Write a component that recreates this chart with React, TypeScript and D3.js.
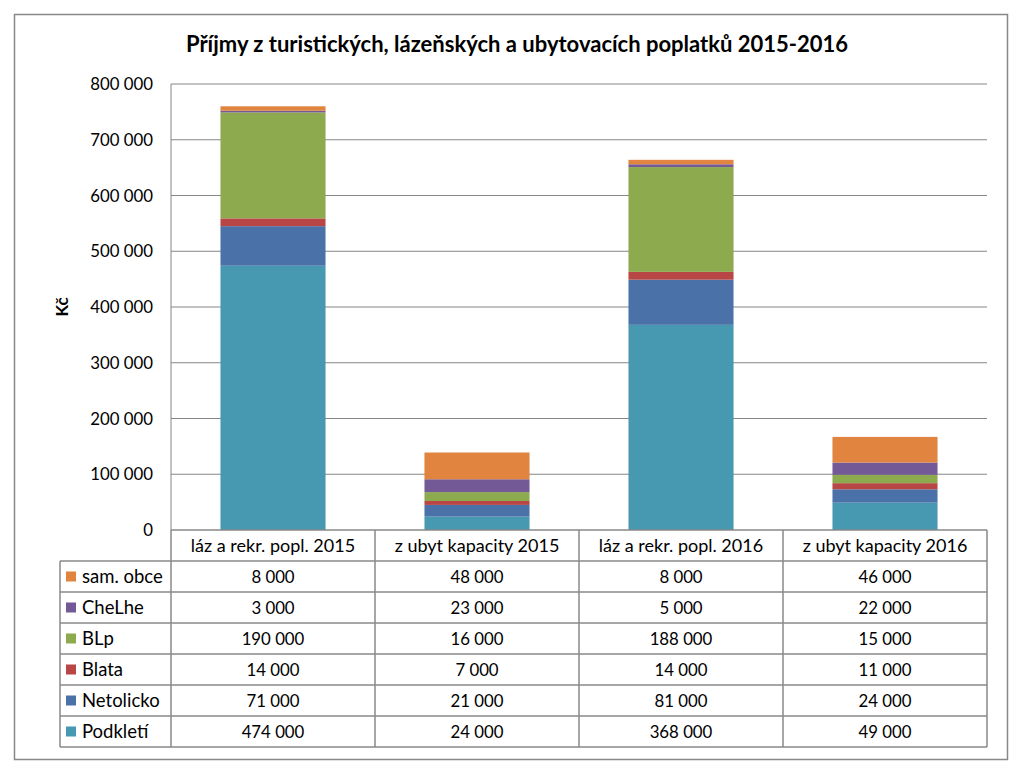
import React from "react";
import * as d3 from "d3";

const categories = [
  "láz a rekr. popl. 2015",
  "z ubyt kapacity 2015",
  "láz a rekr. popl. 2016",
  "z ubyt kapacity 2016",
];

// stacking order bottom -> top
const seriesNames = ["Podkletí", "Netolicko", "Blata", "BLp", "CheLhe", "sam. obce"];
const seriesColors = ["#4699B1", "#4A72A9", "#B84644", "#8DAA4F", "#735A96", "#E0843F"];

const podkleti = [474000, 24000, 368000, 49000];
const netolicko = [71000, 21000, 81000, 24000];
const blata = [14000, 7000, 14000, 11000];
const blp = [190000, 16000, 188000, 15000];
const chelhe = [3000, 23000, 5000, 22000];
const samObce = [8000, 48000, 8000, 46000];

const seriesValues = [podkleti, netolicko, blata, blp, chelhe, samObce];
const yTicks = [0, 100000, 200000, 300000, 400000, 500000, 600000, 700000, 800000];

const W = 1024;
const H = 774;
const margin = { left: 171, right: 987, top: 84, base: 530 };
const rowH = 31;
const font = "Lato, 'Liberation Sans', sans-serif";

const locale = d3.formatLocale({ thousands: " ", grouping: [3], decimal: ",", currency: ["", ""] });
const fmt = locale.format(",");

export default function App() {
  const x = d3.scaleBand<string>().domain(categories).range([margin.left, margin.right]).padding(0);
  const y = d3.scaleLinear().domain([0, 800000]).range([margin.base, margin.top]);

  const rows = categories.map((c, i) => {
    const r: any = { cat: c };
    seriesNames.forEach((s, k) => (r[s] = seriesValues[k][i]));
    return r;
  });
  const stacked = d3.stack<any>().keys(seriesNames)(rows);

  const barW = x.bandwidth() * 0.515;
  const tableTop = margin.base;
  // table rows: legend rows listed top (sam. obce) -> bottom (Podkletí)
  const tableSeries = seriesNames.map((s, k) => k).reverse();
  const tableBottom = tableTop + rowH * (tableSeries.length + 1);
  const legendLeft = 60;

  return (
    <svg width={W} height={H} style={{ position: "absolute", left: 0, top: 0, background: "#fff" }}>
      <rect x={14.5} y={14.5} width={993} height={745} fill="#fff" stroke="#888" strokeWidth={1.5} />
      <text x={517} y={52} textAnchor="middle" fontFamily={font} fontWeight="bold" fontSize={22} fill="#000">
        Příjmy z turistických, lázeňských a ubytovacích poplatků 2015-2016
      </text>

      {/* gridlines */}
      {yTicks.map((t) => (
        <g key={t}>
          {t > 0 && (
            <line x1={margin.left} x2={margin.right} y1={y(t)} y2={y(t)} stroke="#868686" strokeWidth={1} />
          )}
          <text x={153} y={y(t) + 6} textAnchor="end" fontFamily={font} fontSize={16.8} fill="#000">
            {fmt(t)}
          </text>
        </g>
      ))}
      <line x1={margin.left} x2={margin.left} y1={margin.top} y2={margin.base} stroke="#868686" />

      {/* bars */}
      {stacked.map((layer, k) => (
        <g key={layer.key} fill={seriesColors[k]}>
          {layer.map((d, i) => (
            <rect
              key={i}
              x={(x(categories[i]) as number) + (x.bandwidth() - barW) / 2}
              y={y(d[1])}
              width={barW}
              height={y(d[0]) - y(d[1])}
            />
          ))}
        </g>
      ))}

      <text
        transform={`translate(68,${(margin.top + margin.base) / 2}) rotate(-90)`}
        textAnchor="middle"
        fontFamily={font}
        fontWeight="bold"
        fontSize={17}
      >
        Kč
      </text>

      {/* data table */}
      <g stroke="#888" strokeWidth={1.5} fill="none">
        <line x1={margin.left} x2={margin.right} y1={tableTop} y2={tableTop} />
        {tableSeries.map((_, r) => (
          <line key={r} x1={legendLeft} x2={margin.right} y1={tableTop + rowH * (r + 1)} y2={tableTop + rowH * (r + 1)} />
        ))}
        <line x1={legendLeft} x2={margin.right} y1={tableBottom} y2={tableBottom} />
        <line x1={legendLeft} x2={legendLeft} y1={tableTop + rowH} y2={tableBottom} />
        {categories.map((c) => (
          <line key={c} x1={x(c)} x2={x(c)} y1={tableTop} y2={tableBottom} />
        ))}
        <line x1={margin.right} x2={margin.right} y1={tableTop} y2={tableBottom} />
      </g>
      {categories.map((c) => (
        <text
          key={c}
          x={(x(c) as number) + x.bandwidth() / 2}
          y={tableTop + rowH / 2 + 6}
          textAnchor="middle"
          fontFamily={font}
          fontSize={18}
        >
          {c}
        </text>
      ))}
      {tableSeries.map((k, r) => {
        const cy = tableTop + rowH * (r + 1) + rowH / 2;
        return (
          <g key={seriesNames[k]}>
            <rect x={66} y={cy - 5} width={10} height={10} fill={seriesColors[k]} />
            <text x={82} y={cy + 6} fontFamily={font} fontSize={18.5}>
              {seriesNames[k]}
            </text>
            {categories.map((c, i) => (
              <text
                key={c}
                x={(x(c) as number) + x.bandwidth() / 2}
                y={cy + 6}
                textAnchor="middle"
                fontFamily={font}
                fontSize={16.8}
              >
                {fmt(seriesValues[k][i])}
              </text>
            ))}
          </g>
        );
      })}
    </svg>
  );
}
